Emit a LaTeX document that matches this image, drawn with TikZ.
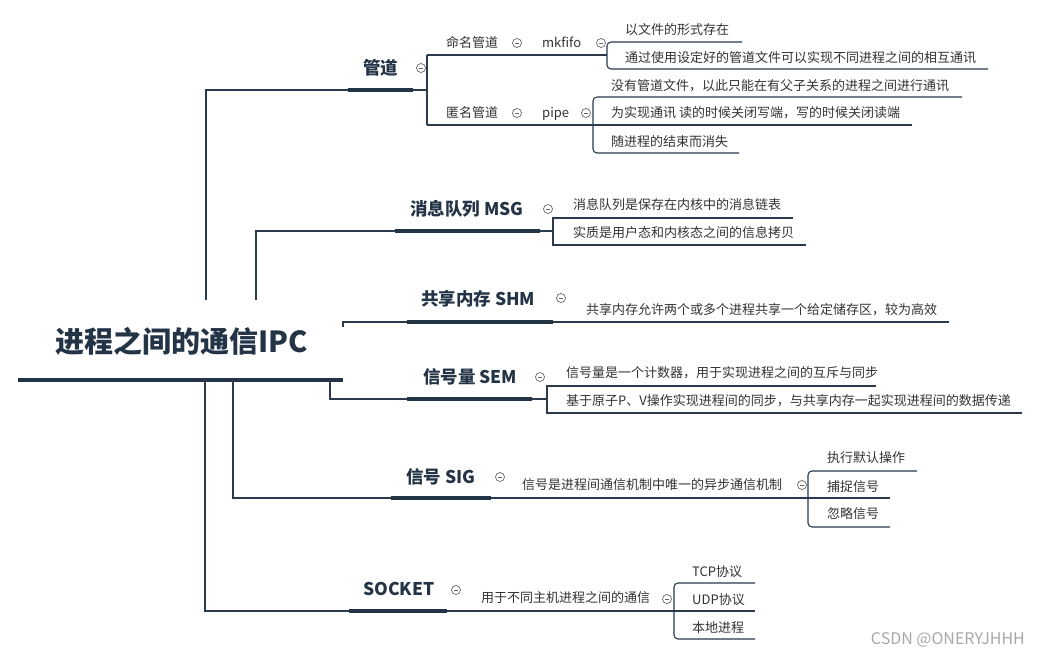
\documentclass[tikz,border=0pt]{standalone}
\usepackage{fontspec}
\setmainfont{Noto Sans CJK SC}
\definecolor{navy}{HTML}{243447}
\definecolor{txt}{HTML}{333333}
\definecolor{ln}{HTML}{2B3A4C}
\definecolor{ctl}{HTML}{666666}
\definecolor{wm}{HTML}{A8A8A8}
\tikzset{
 rootlabel/.style={inner sep=0pt, anchor=west, font=\fontsize{29}{30}\selectfont\bfseries, text=navy, text height=25.5pt, text depth=3.5pt},
 topic/.style={inner sep=0pt, anchor=west, font=\fontsize{17.5}{18}\selectfont\bfseries, text=navy, text height=15.4pt, text depth=2.1pt},
 leaf/.style={inner sep=0pt, anchor=west, font=\fontsize{13}{14}\selectfont, text=txt, text height=11.4pt, text depth=1.6pt},
 bar/.style={line width=4pt, draw=navy},
 conn/.style={line width=1.1pt, draw=ln},
 rconn/.style={conn, rounded corners=4pt},
 fold/.style={circle, draw=ctl, fill=white, line width=0.7pt, minimum size=9pt, inner sep=0pt,
   path picture={\draw[ctl, line width=0.7pt] ([xshift=-2.4pt]path picture bounding box.center) -- ([xshift=2.4pt]path picture bounding box.center);}},
}
\begin{document}
\begin{tikzpicture}[x=1pt,y=-1pt]
\fill[white] (0,0) rectangle (1039,655);
\useasboundingbox (0,0) rectangle (1039,655);

% ---------- root ----------
\node[rootlabel] (root) at (55,341) {进程之间的通信IPC};
\coordinate (rbl) at (18,380); \coordinate (rbr) at (343,380);
\draw[bar, line width=4.5pt] (rbl) -- (rbr);

% ---------- 管道 ----------
\node[topic] (t1) at (363,68) {管道};
\node[fold] (f1) at (421,68) {};
\coordinate (r1) at (206,300);
\coordinate (b1l) at (348,90); \coordinate (b1r) at (413,90);
\coordinate (k1m) at (427,90); \coordinate (k1t) at (427,55); \coordinate (k1b) at (427,125);
\draw[conn] (r1) |- (b1l);
\draw[bar] (b1l) -- (b1r);
\draw[conn] (b1r) -- (k1m);
\draw[conn] (k1t) -- (k1b);

\node[leaf] (s11) at (446,43) {命名管道};
\node[fold] (f11) at (517,43) {};
\node[leaf] (s12) at (542,43) {mkfifo};
\coordinate (m1) at (607,55); \coordinate (m1t) at (607,42); \coordinate (m1b) at (607,69);
\coordinate (m1a) at (742,42); \coordinate (m1c) at (988,69);
\draw[conn] (k1t) -- (m1);
\draw[rconn] (m1a) -- (m1t) -- (m1b) -- (m1c);
\node[fold] (f12) at (601,43) {};
\node[leaf] (c11) at (625,30) {以文件的形式存在};
\node[leaf] (c12) at (625,58) {通过使用设定好的管道文件可以实现不同进程之间的相互通讯};

\node[leaf] (s21) at (446,113) {匿名管道};
\node[fold] (f21) at (517,113) {};
\node[leaf] (s22) at (542,113) {pipe};
\coordinate (p1t) at (593,97); \coordinate (p1b) at (593,153);
\coordinate (p1a) at (962,97); \coordinate (p1m) at (912,125); \coordinate (p1c) at (739,153);
\draw[rconn] (p1a) -- (p1t) -- (p1b) -- (p1c);
\draw[conn] (k1b) -- (p1m);
\node[fold] (f22) at (586,113) {};
\node[leaf] (c21) at (611,86) {没有管道文件，以此只能在有父子关系的进程之间进行通讯};
\node[leaf] (c22) at (611,113) {为实现通讯 读的时候关闭写端，写的时候关闭读端};
\node[leaf] (c23) at (611,142) {随进程的结束而消失};

% ---------- MSG ----------
\node[topic] (t2) at (410,209) {消息队列 MSG};
\coordinate (r2) at (256,300);
\coordinate (b2l) at (395,231); \coordinate (b2r) at (540,231);
\coordinate (k2m) at (553,231); \coordinate (k2t) at (553,218); \coordinate (k2b) at (553,245);
\coordinate (k2a) at (793,218); \coordinate (k2c) at (806,245);
\draw[conn] (r2) |- (b2l);
\draw[bar] (b2l) -- (b2r);
\draw[conn] (b2r) -- (k2m);
\draw[conn] (k2a) -- (k2t) -- (k2b) -- (k2c);
\node[fold] (f2) at (548,209) {};
\node[leaf] (c31) at (573,205) {消息队列是保存在内核中的消息链表};
\node[leaf] (c32) at (573,233) {实质是用户态和内核态之间的信息拷贝};

% ---------- SHM ----------
\node[topic] (t3) at (421,299) {共享内存 SHM};
\node[fold] (f3) at (561,298) {};
\coordinate (r3) at (343,327);
\coordinate (b3l) at (407,322); \coordinate (b3r) at (553,322);
\coordinate (k3e) at (949,322);
\draw[conn] (r3) |- (b3l);
\draw[bar] (b3l) -- (b3r);
\draw[conn] (b3r) -- (k3e);
\node[leaf] (c41) at (586,310) {共享内存允许两个或多个进程共享一个给定储存区，较为高效};

% ---------- SEM ----------
\node[topic] (t4) at (423,377) {信号量 SEM};
\coordinate (r4) at (330,380);
\coordinate (b4l) at (407,399); \coordinate (b4r) at (532,399);
\coordinate (k4m) at (547,399); \coordinate (k4t) at (547,386); \coordinate (k4b) at (547,413);
\coordinate (k4a) at (876,386); \coordinate (k4c) at (1022,413);
\draw[conn] (r4) |- (b4l);
\draw[bar] (b4l) -- (b4r);
\draw[conn] (b4r) -- (k4m);
\draw[conn] (k4a) -- (k4t) -- (k4b) -- (k4c);
\node[fold] (f4) at (540,377) {};
\node[leaf] (c51) at (566,373) {信号量是一个计数器，用于实现进程之间的互斥与同步};
\node[leaf] (c52) at (566,401) {基于原子P、V操作实现进程间的同步，与共享内存一起实现进程间的数据传递};

% ---------- SIG ----------
\node[topic] (t5) at (406,477) {信号 SIG};
\node[fold] (f5) at (500,477) {};
\coordinate (r5) at (233,380);
\coordinate (b5l) at (391,498); \coordinate (b5r) at (491,498);
\coordinate (k5m) at (890,498); \coordinate (k5t) at (808,471); \coordinate (k5b) at (808,527);
\coordinate (k5a) at (917,471); \coordinate (k5c) at (890,527);
\draw[conn] (r5) |- (b5l);
\draw[bar] (b5l) -- (b5r);
\draw[conn] (b5r) -- (k5m);
\draw[rconn] (k5a) -- (k5t) -- (k5b) -- (k5c);
\node[leaf] (s51) at (522,485) {信号是进程间通信机制中唯一的异步通信机制};
\node[fold] (f51) at (802,485) {};
\node[leaf] (c61) at (827,458) {执行默认操作};
\node[leaf] (c62) at (827,487) {捕捉信号};
\node[leaf] (c63) at (827,514) {忽略信号};

% ---------- SOCKET ----------
\node[topic] (t6) at (363,589) {SOCKET};
\node[fold] (f6) at (456,590) {};
\coordinate (r6) at (205,380);
\coordinate (b6l) at (349,611); \coordinate (b6r) at (447,611);
\coordinate (k6m) at (755,611); \coordinate (k6t) at (674,583); \coordinate (k6b) at (674,639);
\coordinate (k6a) at (755,583); \coordinate (k6c) at (755,639);
\draw[conn] (r6) |- (b6l);
\draw[bar] (b6l) -- (b6r);
\draw[conn] (b6r) -- (k6m);
\draw[rconn] (k6a) -- (k6t) -- (k6b) -- (k6c);
\node[leaf] (s61) at (481,598) {用于不同主机进程之间的通信};
\node[fold] (f61) at (667,599) {};
\node[leaf] (c71) at (692,572) {TCP协议};
\node[leaf] (c72) at (692,600) {UDP协议};
\node[leaf] (c73) at (692,628) {本地进程};

% ---------- watermark ----------
\node[inner sep=0pt, anchor=east, font=\fontsize{16}{17}\selectfont, text=wm] (wm) at (1025,640) {CSDN @ONERYJHHH};
\end{tikzpicture}
\end{document}
